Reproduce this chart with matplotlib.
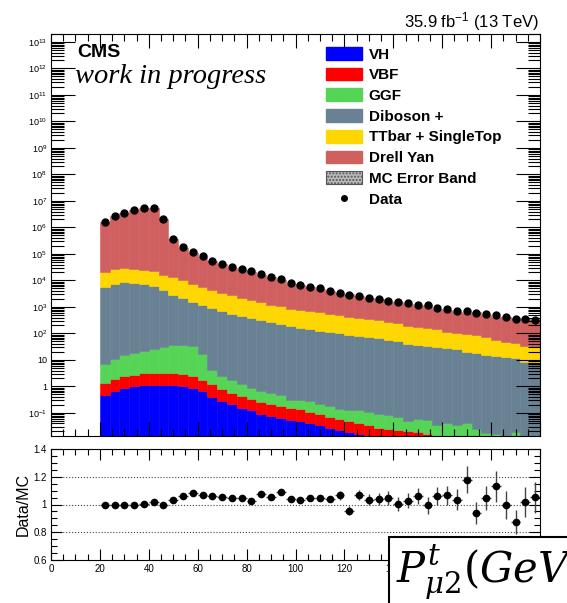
import numpy as np
import matplotlib
matplotlib.use('Agg')
import matplotlib.pyplot as plt
from matplotlib.patches import Patch, Rectangle
from matplotlib.lines import Line2D
from matplotlib.ticker import MultipleLocator, LogLocator, FuncFormatter, NullFormatter

plt.rcParams['font.family'] = ['Liberation Sans', 'DejaVu Sans']
plt.rcParams['mathtext.fontset'] = 'custom'
plt.rcParams['mathtext.rm'] = 'Liberation Sans'
plt.rcParams['mathtext.it'] = 'Liberation Sans:italic'
plt.rcParams['mathtext.bf'] = 'Liberation Sans:bold'

# 4 GeV bins from 20 to 200
edges = np.arange(20, 201, 4)
centers = edges[:-1] + 2

vh = [0.457, 0.647, 0.863, 1.0, 1.09, 1.16, 1.16, 1.09, 1.0, 0.893,
      0.647, 0.395, 0.279, 0.209, 0.157, 0.124, 0.093, 0.076, 0.064, 0.054,
      0.049, 0.041, 0.034, 0.0277, 0.0232, 0.0188, 0.0164, 0.014, 0.012, 0.010,
      0.009, 0.008, 0.007, 0.006, 0.005, 0.004, 0.004, 0.003, 0.003, 0.003,
      0.002, 0.002, 0.002, 0.002, 0.001]
vbf = [0.87, 1.19, 1.52, 1.77, 2.09, 2.13, 2.13, 2.09, 2.01, 1.49,
       1.14, 0.795, 0.54, 0.38, 0.28, 0.213, 0.167, 0.133, 0.112, 0.094,
       0.087, 0.066, 0.054, 0.042, 0.034, 0.029, 0.025, 0.020, 0.015, 0.014,
       0.013, 0.012, 0.012, 0.010, 0.006, 0.005, 0.004, 0.004, 0.003, 0.003,
       0.003, 0.002, 0.002, 0.002, 0.002]
ggf = [5.86, 8.61, 12.4, 15.3, 18.3, 23.2, 27.1, 32.1, 32.3, 29.9,
       14.3, 3.08, 1.56, 1.09, 0.75, 0.556, 0.405, 0.369, 0.281, 0.167,
       0.179, 0.172, 0.134, 0.106, 0.087, 0.076, 0.091, 0.073, 0.061, 0.057,
       0.048, 0.029, 0.038, 0.036, 0.023, 0.034, 0.026, 0.036, 0.019, 0.011,
       0.011, 0.0, 0.015, 0.0, 0.0]
diboson = [5580, 7050, 8615, 8170, 7480, 6065, 4170, 2850, 2115, 1485,
           1195, 897, 674, 552, 449, 377, 308, 266, 218, 188,
           161, 142, 124, 114, 100, 87.5, 80.3, 70.4, 64.5, 54.3,
           49.8, 40.0, 36.7, 32.2, 29.5, 27.1, 24.8, 20.8, 18.3, 16.0,
           14.7, 12.9, 12.3, 8.7, 8.0]
ttbar = [14970, 18940, 21500, 19460, 16340, 15780, 12210, 10445, 7850, 5983,
         4379, 3296, 2759, 2162, 1698, 1380, 1208, 944, 853, 667,
         610, 534, 496, 430, 378, 331, 304, 267, 245, 217,
         188, 152, 139, 122, 112, 87, 75, 71, 66, 56,
         40, 34, 31, 25, 21.6]
data = [1.585e6, 2.69e6, 3.55e6, 4.37e6, 5.5e6, 5.5e6, 2.0e6, 3.72e5, 1.82e5, 1.175e5,
        8.13e4, 5.62e4, 4.27e4, 3.16e4, 2.63e4, 2.19e4, 1.78e4, 1.41e4, 1.15e4, 7940,
        6920, 5890, 5130, 4170, 3470, 2950, 2690, 2240, 2040, 1660,
        1510, 1380, 1200, 1150, 891, 851, 692, 692, 589, 525,
        479, 417, 339, 355, 331]
ratio = [0.998, 1.0, 1.0, 1.0, 1.007, 1.02, 1.0, 1.034, 1.06, 1.08,
         1.07, 1.06, 1.056, 1.044, 1.05, 1.027, 1.073, 1.056, 1.09, 1.04,
         1.034, 1.049, 1.049, 1.04, 1.066, 0.956, 1.066, 1.034, 1.04, 1.046,
         1.005, 1.027, 1.061, 0.993, 1.061, 1.066, 1.034, 1.18, 0.94, 1.046,
         1.13, 0.998, 0.875, 1.017, 1.051]
ratio_err = [0.004, 0.004, 0.004, 0.004, 0.004, 0.004, 0.004, 0.004, 0.004, 0.004,
             0.004, 0.008, 0.008, 0.009, 0.009, 0.01, 0.01, 0.011, 0.012, 0.013,
             0.02, 0.02, 0.022, 0.024, 0.03, 0.035, 0.035, 0.04, 0.04, 0.05,
             0.05, 0.055, 0.06, 0.06, 0.065, 0.07, 0.075, 0.095, 0.08, 0.085,
             0.11, 0.1, 0.085, 0.11, 0.11]

data = np.array(data)
ratio = np.array(ratio)
others = np.array(vh) + np.array(vbf) + np.array(ggf) + np.array(diboson) + np.array(ttbar)
# Drell-Yan fills the rest of the MC total (data / ratio)
dy = data / ratio - others

names = ['VH', 'VBF', 'GGF', 'Diboson +', 'TTbar + SingleTop', 'Drell Yan']
colors = ['#0000ff', '#ff0000', '#55d455', '#688294', '#ffd700', '#d05f5f']
stack = [vh, vbf, ggf, diboson, ttbar, dy]

W, H = 567, 603
def fx(px):
    return px / W
def fy(py):
    return 1 - py / H

fig = plt.figure(figsize=(5.67, 6.03), dpi=100)
ax = fig.add_axes([fx(51), fy(436), fx(540) - fx(51), fy(34) - fy(436)])
ax2 = fig.add_axes([fx(51), fy(560), fx(540) - fx(51), fy(449) - fy(560)])

ax.set_yscale('log')
bottom = np.zeros(len(centers))
for vals, col in zip(stack, colors):
    vals = np.array(vals)
    ax.bar(edges[:-1], vals, width=4, bottom=bottom, align='edge',
           color=col, edgecolor=col, linewidth=0.4)
    bottom = bottom + vals
ax.plot(centers, data, 'o', color='black', ms=5, zorder=5)

ax.set_xlim(0, 200)
ax.set_ylim(0.0135, 2e13)
ax.xaxis.set_major_locator(MultipleLocator(20))
ax.xaxis.set_minor_locator(MultipleLocator(5))
ax.xaxis.set_major_formatter(NullFormatter())
ax.yaxis.set_major_locator(LogLocator(base=10, numticks=40))
ax.yaxis.set_minor_locator(LogLocator(base=10, subs=np.arange(2, 10), numticks=300))
ax.yaxis.set_minor_formatter(NullFormatter())

def logfmt(v, pos):
    e = int(round(np.log10(v)))
    if e == 0:
        return '1'
    if e == 1:
        return '10'
    return '$10^{%d}$' % e
ax.yaxis.set_major_formatter(FuncFormatter(logfmt))
ax.tick_params(axis='both', which='both', direction='in', top=True, right=True, width=0.8)
ax.tick_params(axis='y', which='major', length=17, labelsize=6.5, pad=3)
ax.tick_params(axis='y', which='minor', length=9)
ax.tick_params(axis='x', which='major', length=10)
ax.tick_params(axis='x', which='minor', length=5)

# ratio panel
for yv in [0.8, 1.0, 1.2, 1.4]:
    ax2.axhline(yv, color='#444444', ls=':', lw=0.8, zorder=0)
ax2.errorbar(centers, ratio, yerr=ratio_err, xerr=2, fmt='o', color='black',
             ecolor='#444444', elinewidth=1, ms=4.5, capsize=0)
ax2.set_xlim(0, 200)
ax2.set_ylim(0.6, 1.4)
ax2.xaxis.set_major_locator(MultipleLocator(20))
ax2.xaxis.set_minor_locator(MultipleLocator(5))
ax2.yaxis.set_major_locator(MultipleLocator(0.2))
ax2.yaxis.set_minor_locator(MultipleLocator(0.05))
ax2.yaxis.set_major_formatter(FuncFormatter(lambda v, p: '%g' % round(v, 2)))
ax2.tick_params(axis='both', which='both', direction='in', top=True, right=True, width=0.8)
ax2.tick_params(axis='both', which='major', length=8, labelsize=7, pad=3)
ax2.tick_params(axis='both', which='minor', length=4)
ax2.set_ylabel('Data/MC', fontsize=11.5, labelpad=2)

# labels
fig.text(fx(77), fy(57), 'CMS', fontsize=14, weight='bold', va='baseline')
fig.text(fx(75), fy(83), 'work in progress', fontsize=20.5, style='italic',
         family='Liberation Serif', va='baseline')
fig.text(fx(539), fy(27), r'35.9 fb$^{-1}$ (13 TeV)', fontsize=12, ha='right', va='baseline')

handles = [Patch(facecolor=c, edgecolor=c) for c in colors]
handles.append(Patch(facecolor='#bbbbbb', edgecolor='#555555', hatch='.....', linewidth=0.8))
handles.append(Line2D([], [], marker='o', ls='none', color='black', ms=4))
labels = names + ['MC Error Band', 'Data']
leg = fig.legend(handles, labels, loc='upper left', bbox_to_anchor=(fx(326), fy(47)),
                 frameon=False, borderpad=0, borderaxespad=0,
                 prop={'size': 11, 'weight': 'bold'}, handlelength=2.35,
                 handleheight=0.9, handletextpad=0.45, labelspacing=0.4)

# pasted axis title box
fig.patches.append(Rectangle((fx(389), -0.02), 0.4, fy(537) + 0.02, transform=fig.transFigure,
                             facecolor='white', edgecolor='black', linewidth=1.5, zorder=10))
fig.text(fx(396), fy(583), r'$P^{t}_{\mu 2}(GeV$', fontsize=30, math_fontfamily='dejavuserif',
         va='baseline', zorder=11)

fig.savefig('out.png', dpi=100)
